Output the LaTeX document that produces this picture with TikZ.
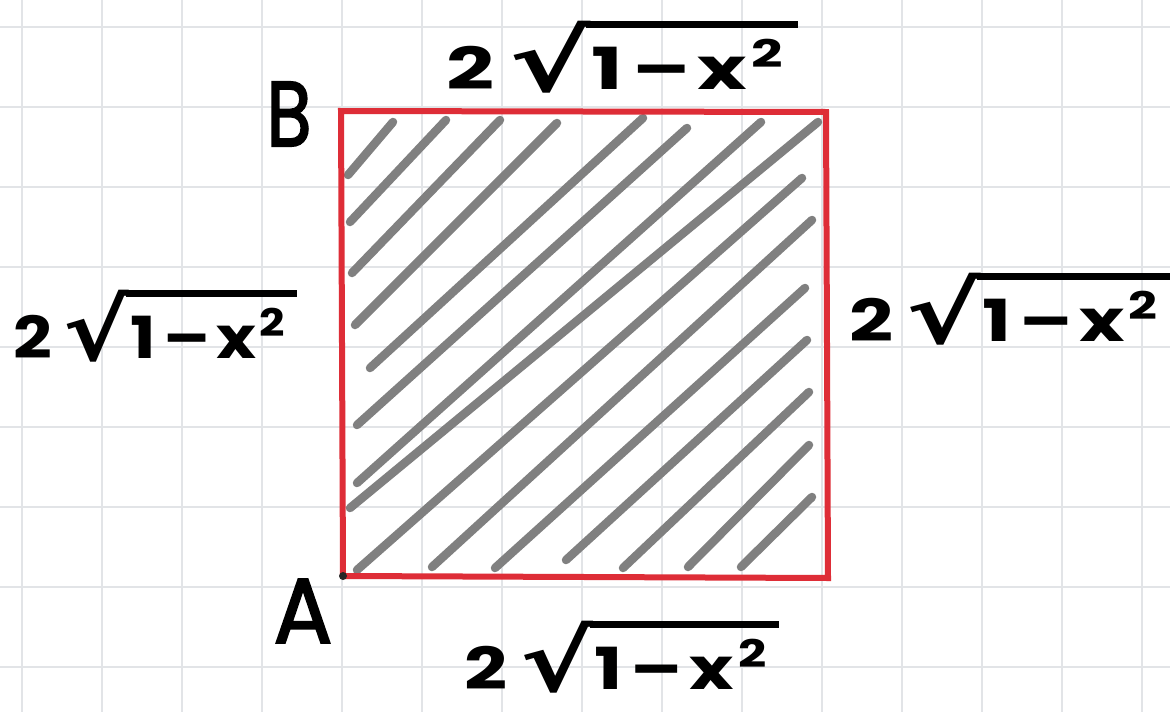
\documentclass[tikz,border=0pt]{standalone}
\usepackage{fontspec}
\usepackage{graphicx}
\newfontfamily\hand{Poppins}
\newfontfamily\handlet{Poppins}[FakeBold=2.2]
\newfontfamily\djv{DejaVu Sans}
\definecolor{gridc}{RGB}{226,228,231}
\definecolor{sqred}{RGB}{222,45,55}
\definecolor{hatchc}{RGB}{128,128,128}
\tikzset{
  gridline/.style={draw=gridc, line width=2.2pt},
  hatch/.style={draw=hatchc, line width=8.5pt, line cap=round},
  redbox/.style={draw=sqred, line width=6pt, line join=miter},
  lbl/.style={inner sep=0pt, font=\hand\bfseries\fontsize{58}{62}\selectfont},
  ptlbl/.style={inner sep=0pt, font=\handlet\fontsize{92}{96}\selectfont}
}
% hand-style root label: 2 sqrt(1 - x^2), with a thick bar
\newcommand{\hroot}[1]{%
  \mbox{\raisebox{-2pt}[69pt][2pt]{\resizebox*{!}{72pt}{\djv\bfseries √}}\kern-3pt%
  \setbox0\hbox{#1}%
  \rlap{\rule[62pt]{\dimexpr\wd0+10pt\relax}{7pt}}\box0\kern10pt}}
\newcommand{\rootlab}[1]{\scalebox{#1}[1]{2\kern10pt\hroot{\kern4pt 1\kern6pt–\kern5pt x\kern3pt\raisebox{22pt}{\fontsize{38}{40}\selectfont 2}}}}
\begin{document}
\begin{tikzpicture}[x=1pt,y=-1pt]
\useasboundingbox (0,0) rectangle (1170,712);
\fill[white] (0,0) rectangle (1170,712);
% grid
\foreach \gx in {22,102,...,1142} \draw[gridline] (\gx,0) -- (\gx,712);
\foreach \gy in {27,107,...,667} \draw[gridline] (0,\gy) -- (1170,\gy);
% hatching
\draw[hatch] (348,175) -- (393,122);
\draw[hatch] (350,222) -- (446,120);
\draw[hatch] (352,273) -- (500,120);
\draw[hatch] (355,325) -- (557,123);
\draw[hatch] (370,368) -- (643,118);
\draw[hatch] (357,425) -- (687,128);
\draw[hatch] (357,483) -- (761,122);
\draw[hatch] (350,508) -- (818,122);
\draw[hatch] (357,570) -- (802,178);
\draw[hatch] (432,567) -- (812,220);
\draw[hatch] (495,568) -- (805,288);
\draw[hatch] (566,560) -- (807,340);
\draw[hatch] (623,568) -- (809,392);
\draw[hatch] (688,567) -- (809,445);
\draw[hatch] (741,567) -- (812,497);
% square
\coordinate (A) at (343,576);
\coordinate (B) at (341,111);
\coordinate (C) at (826,112);
\coordinate (D) at (828,578);
\draw[redbox] (A) -- (B) -- (C) -- (D) -- cycle;
\fill[black!85] (A) circle (4pt);
% labels
\node[ptlbl] (lB) at (289,114) {\scalebox{0.8}[1]{B}};
\node[ptlbl] (lA) at (303,611) {\scalebox{0.95}[1]{A}};
\node[lbl] (top) at (622,56) {\rootlab{1.45}};
\node[lbl] (left) at (155,325) {\rootlab{1.17}};
\node[lbl] (right) at (1010,308) {\rootlab{1.33}};
\node[lbl] (bot) at (622,656) {\rootlab{1.3}};
\end{tikzpicture}
\end{document}
